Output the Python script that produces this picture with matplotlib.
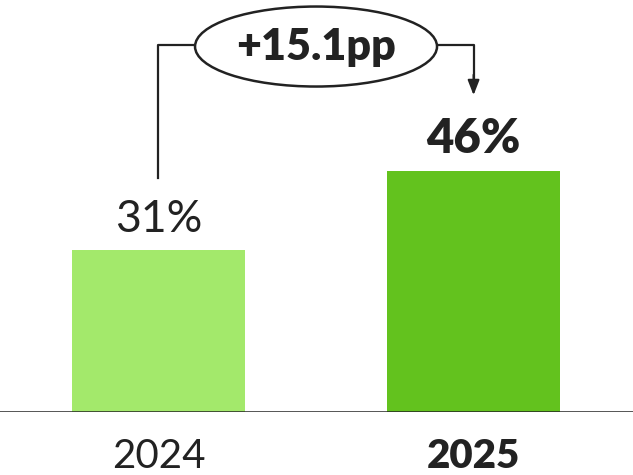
import matplotlib
matplotlib.use('Agg')
from matplotlib import pyplot as plt
from matplotlib.patches import Ellipse

plt.rcParams['font.family'] = ['Lato', 'DejaVu Sans']

#------------------------------------------------------------
# data
years = ['2024', '2025']
share = [31.0, 46.1]
value_labels = ['31%', '46%']
delta_label = '+15.1pp'
colors = ['#a3e96b', '#63c21e']
text_color = '#222222'

#------------------------------------------------------------
# plot
fig = plt.figure(figsize=(6.33, 4.75), dpi=100)
ax = fig.add_axes([0, 63 / 475, 1, 412 / 475])

x = list(range(len(years)))
ax.bar(x, share, width=0.55, color=colors, zorder=2)

ax.set_xlim(-0.503, 1.506)
ax.set_ylim(0, 78.8)

for xi, v, lab, w in zip(x, share, value_labels, ['normal', 'heavy']):
    ax.annotate(lab, (xi, v), xytext=(0, 13), textcoords='offset points',
                ha='center', va='baseline', fontsize=32 if w == 'normal' else 34,
                fontweight=w, color=text_color)

# baseline
ax.axhline(0, color='#222222', lw=1.8, zorder=3)

# year labels
ax.set_xticks(x)
ax.set_xticklabels(years, fontsize=29, color=text_color)
ax.get_xticklabels()[1].set_fontweight('heavy')
ax.tick_params(axis='x', length=0, pad=19)
ax.set_yticks([])
for s in ax.spines.values():
    s.set_visible(False)

# change bracket
top = 70.2
mid = 0.5
ell_w, ell_h = 0.768, 15.3
ax.plot([x[0], x[0], mid - ell_w / 2], [44.7, top, top],
        color=text_color, lw=1.6, clip_on=False)
ax.plot([mid + ell_w / 2, x[1], x[1]], [top, top, 63.5],
        color=text_color, lw=1.6, clip_on=False)
ax.annotate('', xy=(x[1], 60.6), xytext=(x[1], 64.5),
            arrowprops=dict(arrowstyle='-|>,head_width=0.35,head_length=0.9',
                            color=text_color, lw=1.5, shrinkA=0, shrinkB=0))
ax.add_patch(Ellipse((mid, top - 0.3), ell_w, ell_h, fc='white',
                     ec=text_color, lw=1.8, clip_on=False, zorder=4))
ax.text(mid, top - 0.3, delta_label, ha='center', va='center',
        fontsize=31, fontweight='heavy', color=text_color, zorder=5)

fig.savefig('out.png', dpi=100)
